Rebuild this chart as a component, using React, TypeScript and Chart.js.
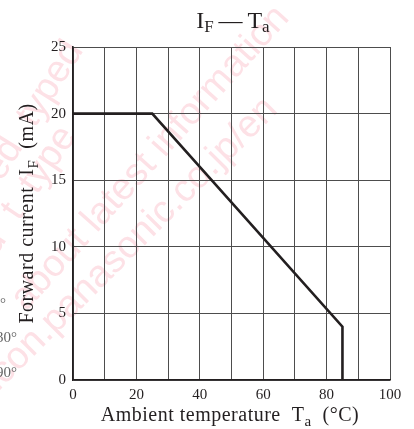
import React, { useEffect, useRef } from "react";
import { Chart, registerables } from "chart.js";

Chart.register(...registerables);

// Data
const temperatures = [0, 25, 85, 85];
const forwardCurrents = [20, 20, 4, 0];
const xTickLabels = [0, 20, 40, 60, 80, 100];
const yTickLabels = [0, 5, 10, 15, 20, 25];

const titleParts = [
  { text: "I" },
  { text: "F", sub: true },
  { text: "\u2009\u2014\u2009" },
  { text: "T" },
  { text: "a", sub: true },
];
const xTitleParts = [
  { text: "Ambient temperature  T" },
  { text: "a", sub: true },
  { text: "  (\u00B0C)" },
];
const yTitleParts = [
  { text: "Forward current  I" },
  { text: "F", sub: true },
  { text: "  (mA)" },
];
// faint watermark lines: text, anchor point, alignment of the anchor, angle in degrees
const watermarkLines = [
  { text: "ied  typed", x: 84, y: 50, align: "right", angle: -58 },
  { text: "ou  t  type", x: 77, y: 136, align: "right", angle: -56 },
  { text: "about latest information", x: 26, y: 312, align: "left", angle: -48 },
  { text: "www.semicon.panasonic.co.jp/en", x: 279, y: 111, align: "right", angle: -45 },
];
const sideFragments = [
  { text: "\u00B0", x: 6, y: 308 },
  { text: "30\u00B0", x: 17, y: 342 },
  { text: "90\u00B0", x: 17, y: 377 },
];

const FONT = "'Liberation Serif', 'Times New Roman', serif";
const INK = "#231f20";

type Part = { text: string; sub?: boolean };

function drawRich(
  ctx: CanvasRenderingContext2D,
  parts: Part[],
  cx: number,
  baseline: number,
  size: number,
  subSize: number,
  subOffset: number,
  spacing: number
) {
  (ctx as any).letterSpacing = `${spacing}px`;
  const widths = parts.map((p) => {
    ctx.font = `${p.sub ? subSize : size}px ${FONT}`;
    return ctx.measureText(p.text).width;
  });
  const total = widths.reduce((a, b) => a + b, 0);
  let x = cx - total / 2;
  ctx.textAlign = "left";
  ctx.textBaseline = "alphabetic";
  parts.forEach((p, i) => {
    ctx.font = `${p.sub ? subSize : size}px ${FONT}`;
    ctx.fillText(p.text, x, baseline + (p.sub ? subOffset : 0));
    x += widths[i];
  });
  (ctx as any).letterSpacing = "0px";
}

const decorPlugin = {
  id: "decor",
  beforeDraw(chart: any) {
    const ctx = chart.ctx as CanvasRenderingContext2D;
    ctx.save();
    ctx.fillStyle = "#ffffff";
    ctx.fillRect(0, 0, chart.width, chart.height);
    ctx.fillStyle = "#fde1e6";
    ctx.font = `38px 'Liberation Sans', Arial, sans-serif`;
    watermarkLines.forEach((w) => {
      ctx.save();
      ctx.translate(w.x, w.y);
      ctx.rotate((w.angle * Math.PI) / 180);
      ctx.textAlign = w.align as CanvasTextAlign;
      ctx.textBaseline = "alphabetic";
      ctx.fillText(w.text, 0, 0);
      ctx.restore();
    });
    ctx.restore();
  },
  afterDraw(chart: any) {
    const ctx = chart.ctx as CanvasRenderingContext2D;
    const area = chart.chartArea;
    ctx.save();
    ctx.fillStyle = INK;
    drawRich(ctx, titleParts, 233, 28, 24, 17, 4, 0);
    drawRich(ctx, xTitleParts, 230, 421, 20, 15, 5, 0.5);
    ctx.save();
    ctx.translate(33, (area.top + area.bottom) / 2);
    ctx.rotate(-Math.PI / 2);
    drawRich(ctx, yTitleParts, 0, 0, 20, 15, 5, 0.5);
    ctx.restore();
    ctx.fillStyle = "#666666";
    ctx.font = `15px ${FONT}`;
    ctx.textAlign = "right";
    sideFragments.forEach((f) => ctx.fillText(f.text, f.x, f.y));
    ctx.restore();
  },
};

export default function App() {
  const canvasRef = useRef<HTMLCanvasElement | null>(null);

  useEffect(() => {
    if (!canvasRef.current) return;
    const chart = new Chart(canvasRef.current, {
      type: "line",
      data: {
        datasets: [
          {
            data: temperatures.map((t, i) => ({ x: t, y: forwardCurrents[i] })),
            borderColor: INK,
            borderWidth: 2.6,
            pointRadius: 0,
            tension: 0,
            fill: false,
          },
        ],
      },
      options: {
        animation: false,
        responsive: true,
        maintainAspectRatio: false,
        layout: { padding: { left: 0, top: 47, right: 24, bottom: 0 } },
        plugins: { legend: { display: false }, tooltip: { enabled: false }, title: { display: false } },
        scales: {
          x: {
            type: "linear",
            min: 0,
            max: 100,
            afterFit: (s: any) => {
              s.height = 49;
            },
            ticks: {
              stepSize: 10,
              autoSkip: false,
              maxRotation: 0,
              padding: 6,
              color: INK,
              font: { family: FONT, size: 15 },
              callback: (v: any) => (xTickLabels.includes(Number(v)) ? String(v) : ""),
            },
            grid: { color: "#4d4d4d", lineWidth: 1, drawTicks: false },
            border: { color: INK, width: 1.6 },
          },
          y: {
            min: 0,
            max: 25,
            afterFit: (s: any) => {
              s.width = 73;
            },
            ticks: {
              stepSize: 5,
              padding: 7,
              color: INK,
              font: { family: FONT, size: 15 },
              callback: (v: any) => (yTickLabels.includes(Number(v)) ? String(v) : ""),
            },
            grid: { color: "#4d4d4d", lineWidth: 1, drawTicks: false },
            border: { color: INK, width: 1.6 },
          },
        },
      },
      plugins: [decorPlugin],
    });
    return () => chart.destroy();
  }, []);

  return (
    <div style={{ position: "absolute", left: 0, top: 0, width: 414, height: 429 }}>
      <canvas ref={canvasRef} />
    </div>
  );
}
